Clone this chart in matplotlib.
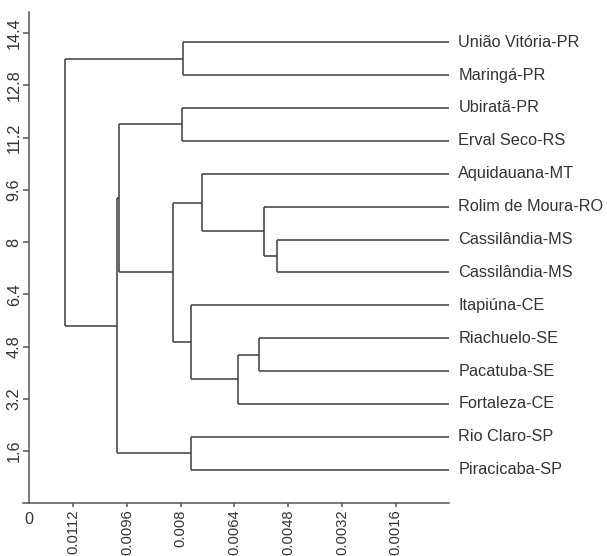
import numpy as np
import matplotlib
matplotlib.use("Agg")
import matplotlib.pyplot as plt

# --- datos: hojas (de arriba hacia abajo) y uniones del dendrograma ---
localidades = ["União Vitória-PR", "Maringá-PR", "Ubiratã-PR", "Erval Seco-RS",
               "Aquidauana-MT", "Rolim de Moura-RO", "Cassilândia-MS", "Cassilândia-MS",
               "Itapiúna-CE", "Riachuelo-SE", "Pacatuba-SE", "Fortaleza-CE",
               "Rio Claro-SP", "Piracicaba-SP"]

# uniones estilo scipy: nodo nuevo = 14, 15, ...
hijo_a = [6, 9, 5, 15, 4, 8, 12, 0, 2, 18, 22, 24, 21]
hijo_b = [7, 10, 14, 11, 16, 17, 13, 1, 3, 19, 23, 20, 25]
distancia = [0.00514, 0.00567, 0.00553, 0.00630, 0.00738, 0.00769, 0.00769,
             0.00794, 0.00797, 0.00822, 0.00983, 0.00991, 0.01145]

xticks = [0.0112, 0.0096, 0.008, 0.0064, 0.0048, 0.0032, 0.0016]
yticks = [1.6, 3.2, 4.8, 6.4, 8, 9.6, 11.2, 12.8, 14.4]

plt.rcParams['font.family'] = ['Liberation Sans', 'DejaVu Sans']
COLOR_LINEA = '#3c3c3c'
COLOR_EJE = '#555555'
COLOR_TEXTO = '#333333'
FS = 11.7
FS_X = 10.6

fig = plt.figure(figsize=(6.07, 5.56), dpi=100)
ax = fig.add_axes([23 / 607, 52.7 / 556, 426.4 / 607, 491.0 / 556])

n = len(localidades)
# posiciones verticales de las hojas (la primera arriba)
pos_y = {i: 1.027 + (n - 1 - i) * 1.0075 for i in range(n)}
pos_x = {i: 0.0 for i in range(n)}

for k, (a, b, d) in enumerate(zip(hijo_a, hijo_b, distancia)):
    nodo = n + k
    ya, yb = pos_y[a], pos_y[b]
    ax.plot([d, d], [ya, yb], color=COLOR_LINEA, lw=1.1, solid_capstyle='butt')
    ax.plot([pos_x[a], d], [ya, ya], color=COLOR_LINEA, lw=1.1, solid_capstyle='butt')
    ax.plot([pos_x[b], d], [yb, yb], color=COLOR_LINEA, lw=1.1, solid_capstyle='butt')
    pos_y[nodo] = (ya + yb) / 2
    pos_x[nodo] = d

for i, nombre in enumerate(localidades):
    ax.annotate(nombre, xy=(0, pos_y[i]), xytext=(6.5, 0), textcoords='offset points',
                ha='left', va='center', fontsize=FS, color=COLOR_TEXTO, annotation_clip=False)

borde_izq = 0.012697
eje_y = 0.01251
ax.set_xlim(borde_izq, 0)
ax.set_ylim(0, 15.04)

ax.spines['right'].set_visible(False)
ax.spines['top'].set_visible(False)
ax.spines['left'].set_position(('data', eje_y))
for s in ('left', 'bottom'):
    ax.spines[s].set_color(COLOR_EJE)
    ax.spines[s].set_linewidth(1.1)

ax.set_xticks(xticks)
ax.set_xticklabels(['%g' % v for v in xticks], rotation=90, fontsize=FS_X, color=COLOR_TEXTO)
ax.set_yticks(yticks)
ax.set_yticklabels(['%g' % v for v in yticks], rotation=90, va='center', fontsize=FS, color=COLOR_TEXTO)
ax.tick_params(axis='x', length=3, width=1.1, color=COLOR_EJE, pad=1.5)
ax.tick_params(axis='y', length=4.5, width=1.1, color=COLOR_EJE, pad=1)

ax.annotate("0", xy=(eje_y, 0), xytext=(0, -6), textcoords='offset points',
            ha='center', va='top', fontsize=FS, color=COLOR_TEXTO, annotation_clip=False)

fig.savefig("out.png", dpi=100)
